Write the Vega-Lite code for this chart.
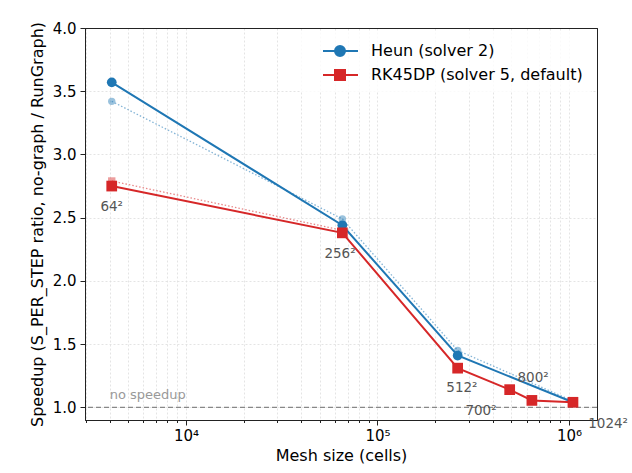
{
  "$schema": "https://vega.github.io/schema/vega-lite/v6.json",
  "width": 512,
  "height": 392,
  "autosize": {"type": "none"},
  "padding": {"left": 85, "top": 28, "right": 35, "bottom": 53},
  "config": {
    "font": "DejaVu Sans",
    "view": {"stroke": "#222222", "strokeWidth": 1},
    "axis": {
      "labelFontSize": 15,
      "titleFontSize": 16,
      "labelColor": "#000000",
      "titleColor": "#000000",
      "titleFontWeight": "normal",
      "tickColor": "#222222",
      "domain": true,
      "domainColor": "#222222",
      "gridWidth": 0.8
    }
  },
  "datasets": {
    "series": [
      {"solver": "Heun (solver 2)", "kind": "main", "cells": 4096, "speedup": 3.57},
      {"solver": "Heun (solver 2)", "kind": "main", "cells": 65536, "speedup": 2.44},
      {"solver": "Heun (solver 2)", "kind": "main", "cells": 262144, "speedup": 1.41},
      {"solver": "Heun (solver 2)", "kind": "main", "cells": 1048576, "speedup": 1.04},
      {"solver": "RK45DP (solver 5, default)", "kind": "main", "cells": 4096, "speedup": 2.75},
      {"solver": "RK45DP (solver 5, default)", "kind": "main", "cells": 65536, "speedup": 2.38},
      {"solver": "RK45DP (solver 5, default)", "kind": "main", "cells": 262144, "speedup": 1.31},
      {"solver": "RK45DP (solver 5, default)", "kind": "main", "cells": 490000, "speedup": 1.14},
      {"solver": "RK45DP (solver 5, default)", "kind": "main", "cells": 640000, "speedup": 1.055},
      {"solver": "RK45DP (solver 5, default)", "kind": "main", "cells": 1048576, "speedup": 1.04},
      {"solver": "Heun (solver 2)", "kind": "faint", "cells": 4096, "speedup": 3.42},
      {"solver": "Heun (solver 2)", "kind": "faint", "cells": 65536, "speedup": 2.49},
      {"solver": "Heun (solver 2)", "kind": "faint", "cells": 262144, "speedup": 1.45},
      {"solver": "Heun (solver 2)", "kind": "faint", "cells": 1048576, "speedup": 1.05},
      {"solver": "RK45DP (solver 5, default)", "kind": "faint", "cells": 4096, "speedup": 2.79},
      {"solver": "RK45DP (solver 5, default)", "kind": "faint", "cells": 65536, "speedup": 2.40}
    ],
    "labels": [
      {"label": "64²", "cells": 4096, "speedup": 2.585},
      {"label": "256²", "cells": 63700, "speedup": 2.21},
      {"label": "512²", "cells": 276000, "speedup": 1.15},
      {"label": "700²", "cells": 347000, "speedup": 0.97},
      {"label": "800²", "cells": 649000, "speedup": 1.23},
      {"label": "1024²", "cells": 1600000, "speedup": 0.87}
    ]
  },
  "layer": [
    {
      "data": {"values": [{"speedup": 1}]},
      "mark": {"type": "rule", "color": "#888888", "strokeDash": [5, 3], "strokeWidth": 1.2},
      "encoding": {"y": {"field": "speedup", "type": "quantitative"}}
    },
    {
      "data": {"values": [{"text": "no speedup", "cells": 4000, "speedup": 1.095}]},
      "mark": {"type": "text", "align": "left", "baseline": "middle", "fontSize": 13, "color": "#999999"},
      "encoding": {
        "x": {"field": "cells", "type": "quantitative"},
        "y": {"field": "speedup", "type": "quantitative"},
        "text": {"field": "text"}
      }
    },
    {
      "data": {"name": "series"},
      "transform": [{"filter": "datum.kind === 'faint'"}],
      "mark": {"type": "line", "strokeDash": [1.5, 2], "strokeWidth": 1.3, "opacity": 0.55},
      "encoding": {
        "x": {"field": "cells", "type": "quantitative"},
        "y": {"field": "speedup", "type": "quantitative"},
        "color": {"field": "solver", "type": "nominal"},
        "detail": {"field": "solver"}
      }
    },
    {
      "data": {"name": "series"},
      "transform": [{"filter": "datum.kind === 'faint'"}],
      "mark": {"type": "point", "filled": true, "size": 55, "opacity": 0.45},
      "encoding": {
        "x": {"field": "cells", "type": "quantitative"},
        "y": {"field": "speedup", "type": "quantitative"},
        "color": {"field": "solver", "type": "nominal"},
        "shape": {"field": "solver", "type": "nominal", "legend": null, "scale": {"range": ["circle", "square"]}}
      }
    },
    {
      "data": {"name": "series"},
      "transform": [{"filter": "datum.kind === 'main'"}],
      "mark": {"type": "line", "strokeWidth": 2},
      "encoding": {
        "x": {
          "field": "cells",
          "type": "quantitative",
          "title": "Mesh size (cells)",
          "scale": {"type": "log", "domain": [2970, 1400000], "nice": false},
          "axis": {
            "values": [3000, 4000, 5000, 6000, 7000, 8000, 9000, 10000, 20000, 30000, 40000, 50000, 60000, 70000, 80000, 90000, 100000, 200000, 300000, 400000, 500000, 600000, 700000, 800000, 900000, 1000000, 1400000],
            "labelExpr": "datum.value == 10000 ? '10⁴' : datum.value == 100000 ? '10⁵' : datum.value == 1000000 ? '10⁶' : ''",
            "tickSize": {"condition": {"test": "datum.value == 10000 || datum.value == 100000 || datum.value == 1000000", "value": 5}, "value": 2.5},
            "tickOpacity": {"condition": {"test": "datum.value == 1400000", "value": 0}, "value": 1},
            "gridColor": {"condition": {"test": "datum.value == 1400000", "value": "#222222"}, "value": "#dddddd"},
            "gridDash": {"condition": {"test": "datum.value == 1400000", "value": []}, "value": [2, 2]},
            "gridWidth": {"condition": {"test": "datum.value == 1400000", "value": 1}, "value": 0.8},
            "labelPadding": 3,
            "titlePadding": 4,
            "grid": true
          }
        },
        "y": {
          "field": "speedup",
          "type": "quantitative",
          "title": "Speedup (S_PER_STEP ratio, no-graph / RunGraph)",
          "scale": {"domain": [0.9, 4.0], "nice": false, "zero": false},
          "axis": {
            "values": [1.0, 1.5, 2.0, 2.5, 3.0, 3.5, 4.0],
            "format": ".1f",
            "tickSize": 5,
            "labelPadding": 4,
            "titlePadding": 7,
            "grid": true,
            "gridColor": {"condition": {"test": "datum.value == 4", "value": "#222222"}, "value": "#dddddd"},
            "gridDash": {"condition": {"test": "datum.value == 4", "value": []}, "value": [2, 2]},
            "gridWidth": {"condition": {"test": "datum.value == 4", "value": 1}, "value": 0.8}
          }
        },
        "color": {
          "field": "solver",
          "type": "nominal",
          "scale": {"domain": ["Heun (solver 2)", "RK45DP (solver 5, default)"], "range": ["#1f77b4", "#d62728"]},
          "legend": {
            "title": null,
            "orient": "none",
            "legendX": 215,
            "legendY": 4,
            "padding": 8,
            "rowPadding": 4,
            "labelFontSize": 16,
            "labelLimit": 400,
            "labelColor": "#000000",
            "labelOffset": 41,
            "symbolSize": 400,
            "fillColor": "rgba(255,255,255,0.8)",
            "strokeColor": null,
            "encode": {
              "symbols": {
                "update": {
                  "shape": {"signal": "datum.value === 'Heun (solver 2)' ? 'M0.4,0H3.9M2.6,0A0.5,0.5,0,1,1,1.6,0A0.5,0.5,0,1,1,2.6,0Z' : 'M0.4,0H3.9M1.6,-0.5H2.6V0.5H1.6Z'"},
                  "fill": {"signal": "scale('color', datum.value)"},
                  "stroke": {"signal": "scale('color', datum.value)"},
                  "strokeWidth": {"value": 2},
                  "opacity": {"value": 1}
                }
              }
            }
          }
        },
        "detail": {"field": "solver"}
      }
    },
    {
      "data": {"name": "series"},
      "transform": [{"filter": "datum.kind === 'main'"}],
      "mark": {"type": "point", "filled": true, "opacity": 1},
      "encoding": {
        "x": {"field": "cells", "type": "quantitative"},
        "y": {"field": "speedup", "type": "quantitative"},
        "color": {"field": "solver", "type": "nominal"},
        "shape": {"field": "solver", "type": "nominal", "legend": null, "scale": {"range": ["circle", "square"]}},
        "size": {"field": "solver", "type": "nominal", "legend": null, "scale": {"range": [95, 115]}}
      }
    },
    {
      "data": {"name": "labels"},
      "mark": {"type": "text", "align": "center", "baseline": "middle", "fontSize": 13.5, "color": "#555555", "clip": false},
      "encoding": {
        "x": {"field": "cells", "type": "quantitative"},
        "y": {"field": "speedup", "type": "quantitative"},
        "text": {"field": "label"}
      }
    }
  ]
}
